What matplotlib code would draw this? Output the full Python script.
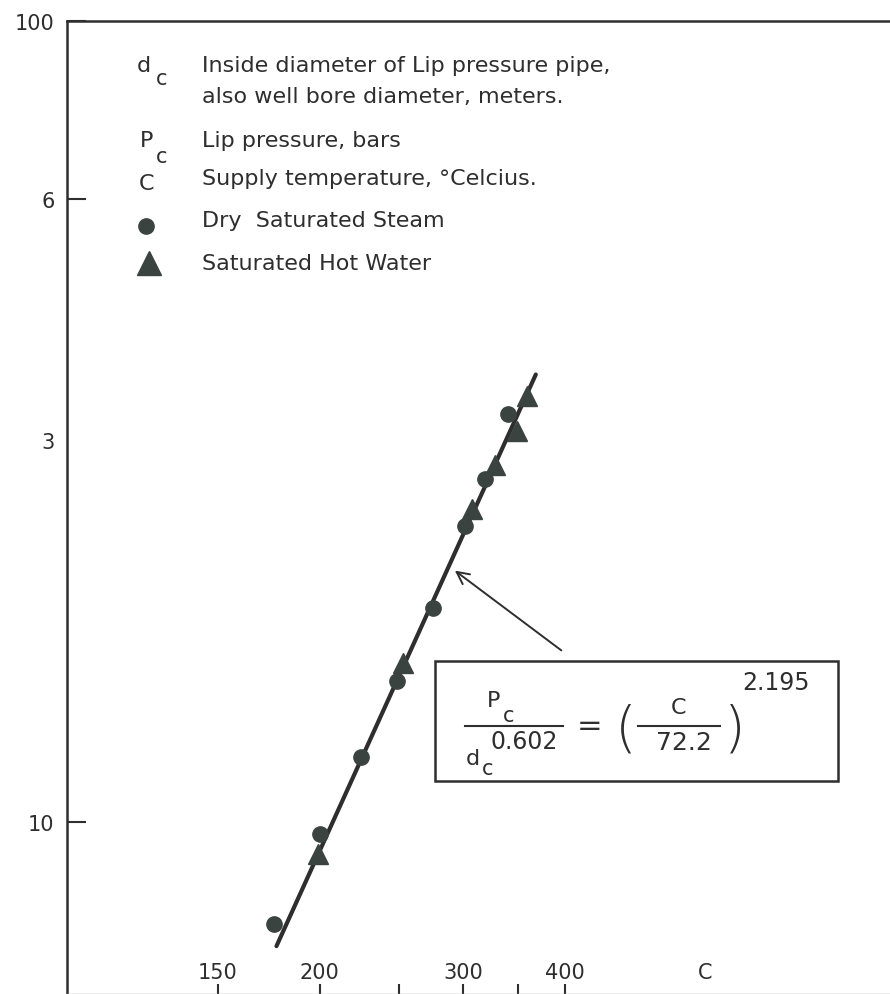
import matplotlib.pyplot as plt
import matplotlib.transforms as mtransforms
from matplotlib.patches import Rectangle
from matplotlib.ticker import NullLocator

# Data (C = supply temperature, y = Pc / dc^0.602)
steam_c = [176, 200, 225, 249, 275, 301, 319, 340]
steam_p = [7.46, 9.66, 12.05, 15.0, 18.5, 23.4, 26.8, 32.3]
water_c = [199, 253, 307, 328, 349, 359]
water_p = [9.12, 15.8, 24.6, 27.9, 30.8, 34.0]
fit_c = [177, 368]
fit_p = [7.0, 36.2]

# Axis ticks and labels
x_ticks = [150, 200, 250, 300, 350, 400]
x_label_vals = [150, 200, 300, 400]
x_labels = ['150', '200', '300', '400']
y_ticks = [100, 60, 30, 10]
y_labels = ['100', '6', '3', '10']

# Key text
key_lines = ['Inside diameter of Lip pressure pipe,',
             'also well bore diameter, meters.',
             'Lip pressure, bars',
             'Supply temperature, \u00b0Celcius.',
             'Dry  Saturated Steam',
             'Saturated Hot Water']

ink = '#2e2e2e'
mark = '#3b4340'

plt.rcParams['font.family'] = ['DejaVu Sans']

fig = plt.figure(figsize=(8.9, 9.95), dpi=100)
ax = fig.add_axes([67 / 890, 0.0, 823 / 890, 973 / 995])


# Helper: position in reference pixels -> axes fraction
def pos(px, py):
    return ((px - 67) / 823, (995 - py) / 973)


ax.set_xscale('log')
ax.set_yscale('log')
ax.set_xlim(98, 1000)
ax.set_ylim(6.1, 100)

# Fitted line and data points
ax.plot(fit_c, fit_p, color=ink, lw=3, solid_capstyle='round', zorder=2)
ax.plot(steam_c, steam_p, 'o', ms=11, color=mark, zorder=3)
ax.plot(water_c, water_p, '^', ms=15, color=mark, zorder=3)

# Spines
for side in ['left', 'top']:
    ax.spines[side].set_color(ink)
    ax.spines[side].set_linewidth(1.8)
ax.spines['right'].set_visible(False)
ax.spines['bottom'].set_color('#aaaaaa')
ax.spines['bottom'].set_linewidth(1.0)

# Ticks
ax.xaxis.set_minor_locator(NullLocator())
ax.yaxis.set_minor_locator(NullLocator())
ax.set_xticks(x_ticks)
ax.set_xticklabels([])
ax.set_yticks(y_ticks)
ax.set_yticklabels(y_labels)
ax.tick_params(axis='x', direction='in', length=7, width=1.5, color=ink)
ax.tick_params(axis='y', direction='in', length=14, width=1.5, color=ink,
               pad=9, labelsize=15, labelcolor=ink)
# the "3" label has no tick mark on the original
ax.yaxis.get_major_ticks()[2].tick1line.set_visible(False)

# Bottom labels sit inside the frame, above the ticks
trans = mtransforms.blended_transform_factory(ax.transData, ax.transAxes)
for v, lab in zip(x_label_vals, x_labels):
    ax.text(v, pos(0, 973)[1], lab, transform=trans, ha='center', va='center',
            fontsize=15, color=ink)
ax.text(*pos(705, 973), 'C', transform=ax.transAxes, ha='center', va='center',
        fontsize=15, color=ink)

# Key in the upper left
key_base = [72, 103, 147, 185, 227, 270]
for txt, by in zip(key_lines, key_base):
    ax.text(*pos(202, by), txt, transform=ax.transAxes, ha='left',
            va='baseline', fontsize=16, color=ink)
ax.text(*pos(144, 72), 'd', transform=ax.transAxes, ha='center', va='baseline',
        fontsize=16, color=ink)
ax.text(*pos(162, 85), 'c', transform=ax.transAxes, ha='center', va='baseline',
        fontsize=15, color=ink)
ax.text(*pos(147, 147), 'P', transform=ax.transAxes, ha='center', va='baseline',
        fontsize=16, color=ink)
ax.text(*pos(162, 163), 'c', transform=ax.transAxes, ha='center', va='baseline',
        fontsize=15, color=ink)
ax.text(*pos(147, 190), 'C', transform=ax.transAxes, ha='center', va='baseline',
        fontsize=16, color=ink)
ax.plot(*pos(146, 227), 'o', ms=11, color=mark, transform=ax.transAxes,
        clip_on=False)
ax.plot(*pos(149, 264), '^', ms=17, color=mark, transform=ax.transAxes,
        clip_on=False)

# Arrow pointing at the fitted line
ax.annotate('', xy=(291, 20.7), xytext=(398, 16.3),
            arrowprops=dict(arrowstyle='->', lw=1.4, color=ink,
                            mutation_scale=22))

# Equation box
x0, y1 = pos(435, 662)
x1, y0 = pos(838, 782)
ax.add_patch(Rectangle((x0, y0), x1 - x0, y1 - y0, transform=ax.transAxes,
                       fill=False, edgecolor=ink, lw=1.8))

eq_parts = [('P', 494, 701, 16), ('c', 509, 716, 15),
            ('d', 473, 759, 16), ('c', 488, 769, 15),
            ('0.602', 524, 742, 17), ('=', 590, 727, 22),
            ('C', 678, 708, 16), ('72.2', 684, 743, 18),
            ('2.195', 776, 683, 17)]
for txt, px, py, fs in eq_parts:
    ax.text(*pos(px, py), txt, transform=ax.transAxes, ha='center',
            va='center', fontsize=fs, color=ink)
for txt, px in [('(', 626), (')', 735)]:
    ax.text(*pos(px, 731), txt, transform=ax.transAxes, ha='center',
            va='center', fontsize=40, color=ink, fontweight='light')
for xa, xb in [(465, 563), (638, 720)]:
    ax.plot([pos(xa, 727)[0], pos(xb, 727)[0]], [pos(xa, 727)[1]] * 2,
            color=ink, lw=1.5, transform=ax.transAxes)

fig.savefig('out.png', dpi=100)
